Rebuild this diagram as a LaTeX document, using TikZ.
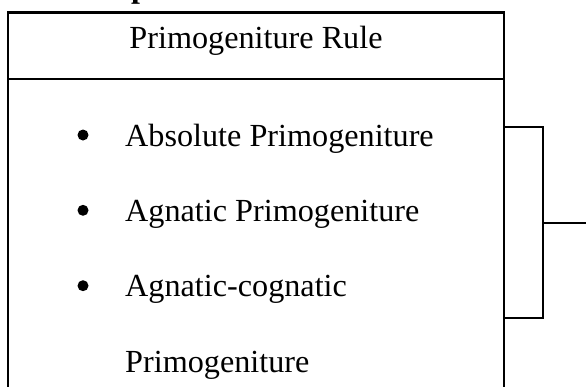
\documentclass[tikz,border=0pt]{standalone}
\usepackage{fontspec}
\setmainfont{Liberation Serif}
\begin{document}
\begin{tikzpicture}[x=1pt,y=-1pt,
  frame/.style={line width=2.5pt, line cap=rect},
  bracketline/.style={line width=2pt},
  label/.style={font=\fontsize{32.2}{38}\selectfont, inner sep=0pt, anchor=base west},
  dot/.style={circle, fill=black, inner sep=0pt, minimum size=11pt}]
  \useasboundingbox (0,0) rectangle (586,386);
  \clip (0,0) rectangle (586,386);

  % tail of the heading above the box
  \node[font=\bfseries\fontsize{32}{38}\selectfont, inner sep=0pt, anchor=base west]
    (heading) at (131,-2.6) {p};

  % outer frame, open at the bottom, and the row divider
  \coordinate (tl) at (8,12.5);
  \coordinate (tr) at (504,12.5);
  \coordinate (bl) at (8,392);
  \coordinate (br) at (504,392);
  \coordinate (dl) at (8,79);
  \coordinate (dr) at (504,79);
  \draw[frame] (bl) -- (tl) -- (tr) -- (br);
  \draw[frame] (dl) -- (dr);

  % title row
  \node[font=\fontsize{32.2}{38}\selectfont, inner sep=0pt, anchor=base]
    (title) at (256,48) {Primogeniture Rule};

  % bulleted list
  \node[dot] (b1) at (83,135) {};
  \node[label] (t1) at (125,146) {Absolute Primogeniture};
  \node[dot] (b2) at (83,210.3) {};
  \node[label] (t2) at (125,221.3) {Agnatic Primogeniture};
  \node[dot] (b3) at (83,285.7) {};
  \node[label] (t3) at (125,296.7) {Agnatic-cognatic};
  \node[label] (t4) at (125,372) {Primogeniture};

  % right-hand bracket
  \coordinate (bt) at (504,127);
  \coordinate (bb) at (504,318);
  \coordinate (bx) at (543,222.5);
  \coordinate (bout) at (586,222.5);
  \draw[bracketline] (bt) -| (bx |- bb) -- (bb);
  \draw[bracketline] (bx) -- (bout);
\end{tikzpicture}
\end{document}
